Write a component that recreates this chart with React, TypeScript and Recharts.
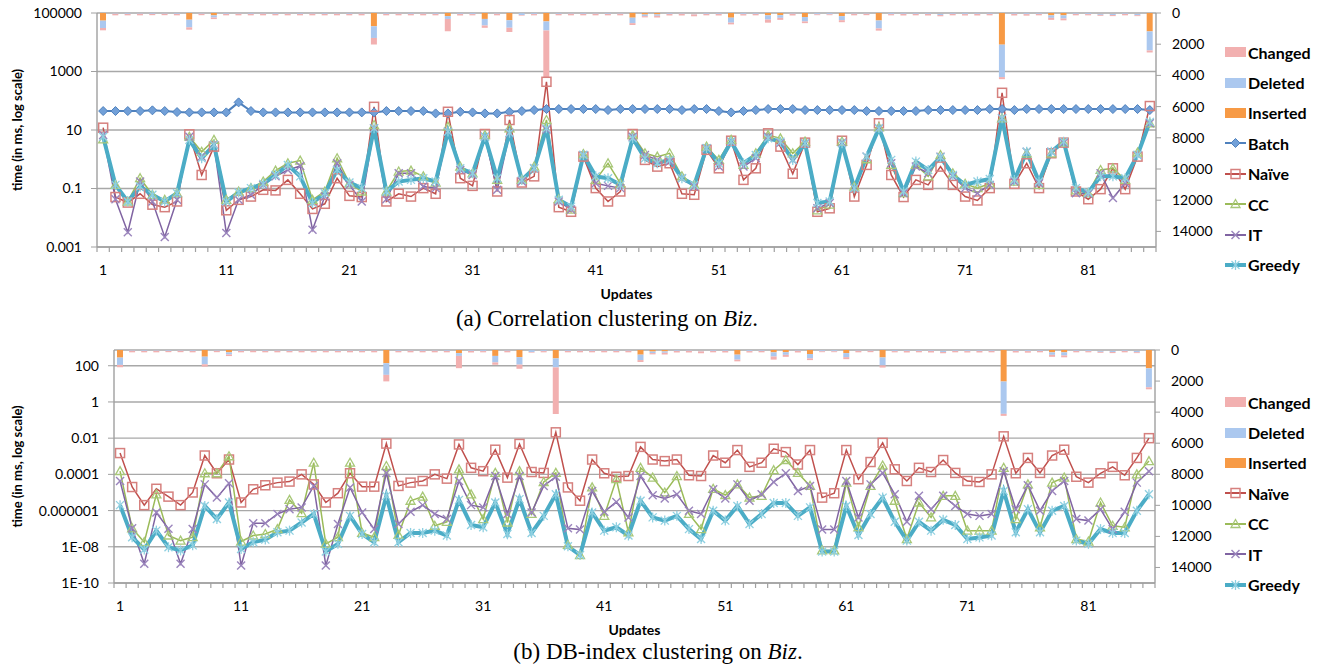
import { ComposedChart, Bar, Line, XAxis, YAxis, CartesianGrid } from 'recharts'

const FONT = 'Lato, "Open Sans", sans-serif'

const updates = Array.from({ length: 86 }, (_, i) => i + 1)

// edit counts per update (right axis, hanging from the top)
const inserted = [
  490, 10, 10, 10, 10, 10, 10, 430, 10, 150,
  10, 10, 10, 10, 10, 10, 10, 10, 10, 10,
  10, 10, 850, 10, 10, 10, 10, 10, 200, 10,
  10, 380, 10, 460, 10, 10, 540, 10, 10, 10,
  10, 10, 10, 300, 100, 90, 10, 10, 30, 10,
  10, 300, 10, 10, 150, 140, 10, 260, 10, 10,
  200, 10, 10, 480, 10, 10, 10, 10, 30, 10,
  10, 10, 10, 2030, 10, 10, 10, 150, 150, 10,
  10, 30, 30, 10, 30, 1180,
]
const deleted = [
  470, 40, 50, 40, 50, 40, 50, 490, 40, 140,
  50, 40, 50, 40, 50, 40, 50, 40, 50, 40,
  50, 40, 750, 50, 40, 50, 40, 50, 180, 50,
  60, 420, 40, 480, 120, 60, 580, 50, 40, 50,
  40, 50, 40, 350, 100, 90, 50, 40, 60, 50,
  50, 320, 60, 50, 270, 170, 40, 280, 70, 70,
  260, 40, 40, 510, 60, 50, 50, 50, 100, 50,
  60, 50, 50, 2080, 50, 60, 50, 160, 200, 50,
  60, 90, 100, 50, 110, 1220,
]
const changed = [
  150, 100, 90, 100, 80, 90, 90, 150, 90, 100,
  90, 100, 90, 100, 90, 100, 90, 100, 90, 100,
  90, 100, 420, 90, 100, 90, 100, 90, 790, 100,
  80, 150, 100, 270, 40, 80, 3000, 90, 100, 90,
  100, 90, 100, 120, 80, 110, 100, 110, 120, 90,
  100, 110, 90, 90, 200, 130, 110, 110, 60, 60,
  130, 100, 90, 140, 80, 100, 90, 100, 80, 90,
  90, 100, 90, 130, 100, 100, 90, 130, 120, 90,
  80, 60, 70, 90, 60, 130,
]

// (a) correlation clustering, time in ms
const batchA = [
  44.5, 44.5, 44.5, 44.5, 47, 44.5, 41, 40, 40, 40,
  40, 88, 44.5, 40, 40, 40, 40, 40, 40, 40,
  40, 40, 40, 44.5, 44.5, 44.5, 44.5, 37, 37, 42,
  40, 37, 37, 42, 44.5, 48, 52, 52, 52, 52,
  52, 48, 52, 52, 52, 52, 52, 48, 52, 52,
  44.5, 40, 44.5, 48, 52, 52, 52, 48, 48, 48,
  48, 48, 44.5, 44.5, 44.5, 44.5, 44.5, 48, 48, 48,
  48, 48, 52, 52, 48, 52, 52, 52, 52, 52,
  52, 52, 52, 52, 52, 48,
]
const naiveA = [
  12, 0.051, 0.033, 0.066, 0.028, 0.023, 0.036, 7.1, 0.29, 2.7,
  0.018, 0.041, 0.053, 0.09, 0.086, 0.197, 0.066, 0.02, 0.03, 0.225,
  0.056, 0.051, 62, 0.036, 0.066, 0.053, 0.103, 0.066, 42, 0.225,
  0.123, 7.3, 0.079, 22, 0.16, 0.26, 445, 0.023, 0.016, 1.23,
  0.103, 0.036, 0.079, 7.3, 0.95, 0.56, 0.73, 0.066, 0.061, 2.1,
  0.49, 4.3, 0.197, 0.49, 7.7, 2.7, 0.32, 3.7, 0.016, 0.021,
  4.3, 0.053, 0.64, 17, 0.29, 0.051, 0.197, 0.133, 0.56, 0.133,
  0.053, 0.039, 0.103, 187, 0.144, 0.73, 0.103, 1.6, 3.7, 0.079,
  0.043, 0.095, 0.49, 0.095, 1.23, 66,
]
const ccA = [
  4.8, 0.133, 0.036, 0.225, 0.061, 0.041, 0.069, 5.9, 1.8, 4.6,
  0.041, 0.079, 0.103, 0.173, 0.41, 0.73, 0.9, 0.041, 0.079, 1.08,
  0.15, 0.079, 14.8, 0.079, 0.38, 0.41, 0.26, 0.16, 13, 0.56,
  0.33, 6.7, 0.197, 11.4, 0.197, 0.56, 22, 0.043, 0.019, 1.5,
  0.197, 0.73, 0.15, 6.7, 1.6, 1.23, 1.6, 0.26, 0.133, 2.7,
  0.95, 4.6, 0.64, 1.6, 6.7, 5.2, 1.6, 4.0, 0.018, 0.028,
  4.0, 0.117, 1.0, 12.3, 0.64, 0.069, 0.64, 0.26, 1.4, 0.33,
  0.144, 0.103, 0.15, 25, 0.173, 1.6, 0.133, 1.6, 3.7, 0.086,
  0.069, 0.43, 0.49, 0.197, 1.7, 17,
]
const itA = [
  6.7, 0.043, 0.0032, 0.173, 0.036, 0.0022, 0.041, 5.9, 1.23, 3.1,
  0.003, 0.041, 0.061, 0.133, 0.26, 0.43, 0.59, 0.0039, 0.053, 0.73,
  0.133, 0.036, 11.4, 0.043, 0.33, 0.33, 0.117, 0.103, 8.8, 0.43,
  0.29, 5.9, 0.09, 7.7, 0.173, 0.49, 10.5, 0.036, 0.019, 1.4,
  0.15, 0.123, 0.103, 5.9, 1.4, 0.95, 0.83, 0.225, 0.117, 2.4,
  0.56, 4.0, 0.56, 1.08, 5.9, 3.7, 0.95, 3.5, 0.021, 0.032,
  3.7, 0.103, 1.23, 11.4, 0.73, 0.069, 0.56, 0.33, 1.23, 0.26,
  0.103, 0.069, 0.133, 25, 0.173, 1.8, 0.15, 1.8, 3.7, 0.069,
  0.066, 0.33, 0.047, 0.15, 1.4, 17,
]
const greedyA = [
  5.9, 0.133, 0.036, 0.117, 0.061, 0.036, 0.069, 4.6, 1.08, 3.1,
  0.036, 0.073, 0.103, 0.144, 0.29, 0.64, 0.26, 0.032, 0.069, 0.43,
  0.16, 0.103, 11.4, 0.079, 0.173, 0.197, 0.225, 0.173, 8.8, 0.49,
  0.33, 5.9, 0.225, 8.1, 0.197, 0.49, 11.4, 0.041, 0.024, 1.4,
  0.26, 0.225, 0.133, 5.2, 1.08, 0.73, 0.95, 0.225, 0.133, 2.4,
  0.73, 4.0, 0.73, 1.4, 5.2, 4.0, 0.95, 3.5, 0.032, 0.036,
  3.5, 0.103, 1.23, 11.4, 0.95, 0.079, 0.83, 0.43, 1.17, 0.29,
  0.133, 0.173, 0.21, 25, 0.197, 1.8, 0.173, 1.8, 4.0, 0.103,
  0.073, 0.26, 0.26, 0.225, 1.4, 19,
]

// (b) DB-index clustering, time in ms
const naiveB = [
  1.5e-3, 2.0e-5, 2.0e-6, 1.6e-5, 5.9e-6, 2.0e-6, 1.0e-5, 1.1e-3, 1.15e-4, 6.6e-4,
  2.8e-6, 1.5e-5, 2.5e-5, 3.5e-5, 4.0e-5, 1.0e-4, 2.8e-5, 2.8e-6, 9.1e-6, 1.15e-4,
  2.1e-5, 2.1e-5, 5.0e-3, 2.3e-5, 3.5e-5, 4.3e-5, 1.0e-4, 5.8e-5, 4.5e-3, 2.3e-4,
  1.5e-4, 2.3e-3, 6.6e-5, 4.8e-3, 1.35e-4, 1.2e-4, 2.1e-2, 1.9e-5, 3.5e-6, 6.6e-4,
  1.15e-4, 7.4e-5, 8.1e-5, 3.3e-3, 6.6e-4, 5.4e-4, 6.6e-4, 8.9e-5, 8.1e-5, 1.1e-3,
  4.4e-4, 2.2e-3, 2.6e-4, 4.4e-4, 2.6e-3, 1.7e-3, 3.5e-4, 2.2e-3, 5.2e-6, 9.1e-6,
  2.2e-3, 5.4e-5, 4.8e-4, 5.5e-3, 1.9e-4, 4.3e-5, 2.3e-4, 1.35e-4, 6.2e-4, 1.2e-4,
  4.3e-5, 3.8e-5, 1.0e-4, 1.26e-2, 1.15e-4, 8.1e-4, 1.2e-4, 1.1e-3, 2.3e-3, 7.4e-5,
  3.5e-5, 1.15e-4, 2.6e-4, 8.9e-5, 8.1e-4, 1.0e-2,
]
const ccB = [
  1.5e-4, 1.05e-7, 1.8e-8, 7.9e-6, 4.2e-8, 2.2e-8, 3.4e-8, 1.15e-4, 1.15e-4, 1.0e-3,
  1.95e-8, 4.2e-8, 5.1e-8, 9.5e-8, 3.9e-6, 7.2e-7, 4.4e-4, 1.45e-8, 3.4e-8, 4.4e-4,
  5.8e-8, 3.4e-8, 2.9e-4, 4.5e-8, 3.5e-6, 5.9e-6, 1.45e-7, 2.4e-7, 1.9e-4, 7.9e-6,
  3.4e-7, 1.2e-4, 2.2e-7, 1.5e-4, 6.5e-7, 3.8e-5, 1.2e-4, 1.26e-8, 3.5e-9, 1.9e-5,
  5.1e-7, 5.4e-5, 6.3e-8, 2.3e-4, 6.6e-5, 1.0e-5, 8.1e-5, 6.5e-7, 9.5e-8, 1.6e-5,
  7.1e-6, 2.8e-5, 5.2e-6, 6.5e-6, 1.7e-4, 6.2e-4, 1.2e-4, 2.3e-5, 6.3e-9, 6.3e-9,
  3.5e-5, 1.2e-7, 2.3e-5, 3.1e-4, 3.5e-6, 2.7e-8, 2.8e-6, 4.2e-7, 6.5e-6, 6.5e-6,
  7.8e-8, 7.8e-8, 7.8e-8, 2.3e-4, 3.4e-7, 2.8e-5, 1.2e-7, 3.5e-5, 6.6e-5, 2.7e-8,
  1.95e-8, 2.8e-6, 1.45e-7, 1.2e-7, 1.0e-4, 5.4e-4,
]
const itB = [
  4.3e-5, 1.05e-7, 1.15e-9, 7.9e-7, 9.8e-8, 1.15e-9, 9.5e-8, 2.8e-5, 5.2e-6, 3.2e-5,
  9.3e-10, 2.0e-7, 2.0e-7, 6.5e-7, 1.2e-6, 1.5e-6, 2.3e-5, 9.3e-10, 1.8e-7, 1.9e-5,
  7.9e-7, 9.5e-8, 1.2e-4, 1.8e-7, 8.5e-7, 2.0e-6, 6.5e-7, 3.4e-7, 4.3e-5, 2.0e-6,
  1.5e-6, 8.1e-5, 6.5e-7, 8.1e-5, 7.9e-7, 2.3e-5, 7.4e-5, 1.05e-7, 8.9e-8, 1.2e-5,
  8.5e-7, 3.0e-6, 4.2e-7, 8.1e-5, 7.1e-6, 4.7e-6, 7.9e-6, 9.8e-7, 6.5e-7, 1.5e-5,
  4.7e-6, 2.8e-5, 3.5e-6, 7.9e-6, 3.8e-5, 1.15e-4, 1.2e-5, 2.3e-5, 8.9e-8, 8.9e-8,
  4.3e-5, 4.2e-7, 2.8e-5, 1.2e-4, 7.9e-6, 2.4e-7, 6.5e-6, 1.2e-6, 6.5e-6, 1.8e-6,
  6.5e-7, 5.1e-7, 6.5e-7, 1.5e-4, 1.2e-6, 2.5e-5, 9.8e-7, 1.2e-5, 4.3e-5, 3.4e-7,
  2.8e-7, 1.2e-6, 9.5e-8, 8.5e-7, 3.5e-5, 1.5e-4,
]
const greedyB = [
  2.0e-6, 3.4e-8, 7.1e-9, 7.8e-8, 9.5e-9, 6.3e-9, 1.2e-8, 1.8e-6, 3.4e-7, 2.8e-6,
  7.6e-9, 1.8e-8, 2.5e-8, 6.3e-8, 7.8e-8, 2.2e-7, 6.5e-7, 5.5e-9, 1.45e-8, 5.1e-7,
  5.1e-8, 1.8e-8, 6.5e-6, 1.8e-8, 5.8e-8, 5.8e-8, 7.8e-8, 4.2e-8, 3.9e-6, 1.6e-7,
  1.2e-7, 2.8e-6, 5.1e-8, 4.3e-6, 5.8e-8, 5.1e-7, 7.9e-6, 1.07e-8, 3.5e-9, 7.9e-7,
  7.8e-8, 1.2e-7, 4.2e-8, 3.5e-6, 4.2e-7, 2.8e-7, 5.1e-7, 9.5e-8, 2.7e-8, 9.8e-7,
  2.8e-7, 1.8e-6, 1.8e-7, 6.5e-7, 2.6e-6, 2.6e-6, 5.1e-7, 1.5e-6, 5.5e-9, 5.5e-9,
  1.8e-6, 4.5e-8, 6.5e-7, 5.2e-6, 2.4e-7, 2.2e-8, 2.4e-7, 7.8e-8, 3.1e-7, 1.6e-7,
  2.7e-8, 3.3e-8, 4.2e-8, 1.2e-5, 6.3e-8, 1.2e-6, 6.3e-8, 9.8e-7, 1.8e-6, 2.2e-8,
  1.45e-8, 9.5e-8, 5.8e-8, 5.8e-8, 9.8e-7, 7.9e-6,
]

const logTicksA = [0.001, 0.1, 10, 1000, 100000]
const logLabelsA = ['0.001', '0.1', '10', '1000', '100000']
const logTicksB = [1e-10, 1e-8, 1e-6, 1e-4, 0.01, 1, 100]
const logLabelsB = ['1E-10', '1E-08', '0.000001', '0.0001', '0.01', '1', '100']
const countTicks = [0, 2000, 4000, 6000, 8000, 10000, 12000, 14000]

const dataA = updates.map((u, i) => ({
  u,
  inserted: inserted[i],
  deleted: deleted[i],
  changed: changed[i],
  batch: batchA[i],
  naive: naiveA[i],
  cc: ccA[i],
  it: itA[i],
  greedy: greedyA[i],
}))
const dataB = updates.map((u, i) => ({
  u,
  inserted: inserted[i],
  deleted: deleted[i],
  changed: changed[i],
  naive: naiveB[i],
  cc: ccB[i],
  it: itB[i],
  greedy: greedyB[i],
}))

const C = {
  inserted: '#f79a45',
  deleted: '#abc8ef',
  changed: '#f2b0b0',
  batch: '#4f81bd',
  naive: '#c0504d',
  cc: '#9bbb59',
  it: '#8064a2',
  greedy: '#4bacc6',
}
const AXIS = '#a0a0a0'
const GRID = '#a8a8a8'

function Marker({ kind, cx, cy }: { kind: string; cx: number; cy: number }) {
  if (cx == null || cy == null) return null
  const s = 4.5
  if (kind === 'batch')
    return <polygon points={`${cx},${cy - s} ${cx + s},${cy} ${cx},${cy + s} ${cx - s},${cy}`} fill="#72a0d8" stroke={C.batch} strokeWidth={1} />
  if (kind === 'naive')
    return <rect x={cx - s} y={cy - s} width={2 * s} height={2 * s} fill="none" stroke="#d6807e" strokeWidth={1.5} />
  if (kind === 'cc')
    return <polygon points={`${cx},${cy - s} ${cx + s},${cy + 3.5} ${cx - s},${cy + 3.5}`} fill="none" stroke="#a8c878" strokeWidth={1.3} />
  if (kind === 'it')
    return (
      <g stroke="#9a84bc" strokeWidth={1.4}>
        <line x1={cx - 4} y1={cy - 4} x2={cx + 4} y2={cy + 4} />
        <line x1={cx - 4} y1={cy + 4} x2={cx + 4} y2={cy - 4} />
      </g>
    )
  return (
    <g stroke="#8fd0e1" strokeWidth={1.3}>
      <line x1={cx - 4} y1={cy - 4} x2={cx + 4} y2={cy + 4} />
      <line x1={cx - 4} y1={cy + 4} x2={cx + 4} y2={cy - 4} />
      <line x1={cx} y1={cy - 5} x2={cx} y2={cy + 5} />
    </g>
  )
}

const dotFor = (kind: string) => (p: any) => <Marker key={`${kind}-${p.index}`} kind={kind} cx={p.cx} cy={p.cy} />

function CatTick(props: any) {
  const { x, y, payload, index, half, total } = props
  return (
    <g>
      <line x1={x - half} x2={x - half} y1={y} y2={y + 5} stroke={AXIS} strokeWidth={1.2} />
      {index === total - 1 && <line x1={x + half} x2={x + half} y1={y} y2={y + 5} stroke={AXIS} strokeWidth={1.2} />}
      {index % 10 === 0 && (
        <text x={x} y={y + 22} textAnchor="middle" dominantBaseline="central" fontSize={14} fontFamily={FONT} fill="#000">
          {payload.value}
        </text>
      )}
    </g>
  )
}

const yTitle = (props: any) => {
  const vb = props.viewBox
  const cy = vb.y + vb.height / 2
  return (
    <text x={17} y={cy} transform={`rotate(-90, 17, ${cy})`} textAnchor="middle" dominantBaseline="central" fontSize={13} fontWeight={700} fontFamily={FONT} fill="#000">
      time (in ms, log scale)
    </text>
  )
}
const xTitle = (props: any) => {
  const vb = props.viewBox
  return (
    <text x={vb.x + vb.width / 2} y={vb.y + 46} textAnchor="middle" dominantBaseline="central" fontSize={14} fontWeight={700} fontFamily={FONT} fill="#000">
      Updates
    </text>
  )
}

const tickStyle = { fill: '#000', fontSize: 14, fontFamily: FONT }

function Panel({ data, top, margin, logDomain, logTicks, logLabels, withBatch }: any) {
  const plotW = 1325 - margin.left - margin.right - 120
  const half = plotW / data.length / 2
  return (
    <div style={{ position: 'absolute', left: 0, top }}>
      <ComposedChart width={1325} height={320} data={data} margin={margin} barGap={0}>
        <CartesianGrid yAxisId="left" vertical={false} stroke={GRID} strokeWidth={1.4} />
        <XAxis
          dataKey="u"
          interval={0}
          height={30}
          tickSize={0}
          tickMargin={0}
          tickLine={false}
          axisLine={{ stroke: AXIS, strokeWidth: 1.4 }}
          tick={<CatTick half={half} total={data.length} />}
          label={xTitle}
        />
        <YAxis
          yAxisId="left"
          scale="log"
          domain={logDomain}
          allowDataOverflow
          ticks={logTicks}
          width={60}
          tickSize={6}
          tickMargin={9}
          tick={tickStyle}
          tickFormatter={(v: number) => logLabels[logTicks.indexOf(v)] ?? ''}
          axisLine={{ stroke: AXIS, strokeWidth: 1.4 }}
          tickLine={{ stroke: AXIS }}
          label={yTitle}
        />
        <YAxis
          yAxisId="right"
          orientation="right"
          reversed
          domain={[0, 15000]}
          ticks={countTicks}
          width={60}
          tickSize={5}
          tickMargin={11}
          tick={tickStyle}
          axisLine={{ stroke: AXIS, strokeWidth: 1.4 }}
          tickLine={{ stroke: AXIS }}
        />
        <Bar yAxisId="right" dataKey="inserted" stackId="e" fill={C.inserted} barSize={6} isAnimationActive={false} />
        <Bar yAxisId="right" dataKey="deleted" stackId="e" fill={C.deleted} barSize={6} isAnimationActive={false} />
        <Bar yAxisId="right" dataKey="changed" stackId="e" fill={C.changed} barSize={6} isAnimationActive={false} />
        {withBatch && (
          <Line yAxisId="left" dataKey="batch" stroke={C.batch} strokeWidth={2} dot={dotFor('batch')} isAnimationActive={false} />
        )}
        <Line yAxisId="left" dataKey="naive" stroke={C.naive} strokeWidth={1.5} dot={dotFor('naive')} isAnimationActive={false} />
        <Line yAxisId="left" dataKey="cc" stroke={C.cc} strokeWidth={1.5} dot={dotFor('cc')} isAnimationActive={false} />
        <Line yAxisId="left" dataKey="it" stroke={C.it} strokeWidth={1.5} dot={dotFor('it')} isAnimationActive={false} />
        <Line yAxisId="left" dataKey="greedy" stroke={C.greedy} strokeWidth={4} dot={dotFor('greedy')} isAnimationActive={false} />
      </ComposedChart>
    </div>
  )
}

const legendA = [
  { key: 'changed', label: 'Changed', bar: true },
  { key: 'deleted', label: 'Deleted', bar: true },
  { key: 'inserted', label: 'Inserted', bar: true },
  { key: 'batch', label: 'Batch' },
  { key: 'naive', label: 'Naïve' },
  { key: 'cc', label: 'CC' },
  { key: 'it', label: 'IT' },
  { key: 'greedy', label: 'Greedy' },
]
const legendB = legendA.filter(d => d.key !== 'batch')

function LegendBox({ items, top }: any) {
  return (
    <div style={{ position: 'absolute', left: 1225, top }}>
      {items.map((d: any) => (
        <div key={d.key} style={{ height: 30.4, display: 'flex', alignItems: 'center' }}>
          <svg width={22} height={14} style={{ marginRight: 1 }}>
            {d.bar ? (
              <rect x={0} y={2} width={21} height={10} fill={(C as any)[d.key]} />
            ) : (
              <g>
                <line x1={0} x2={21} y1={7} y2={7} stroke={(C as any)[d.key]} strokeWidth={d.key === 'greedy' ? 4 : 2} />
                <Marker kind={d.key} cx={10.5} cy={7} />
              </g>
            )}
          </svg>
          <span style={{ fontFamily: FONT, fontWeight: 700, fontSize: 16, color: '#000' }}>{d.label}</span>
        </div>
      ))}
    </div>
  )
}

const captionStyle: any = {
  position: 'absolute',
  fontFamily: '"Liberation Serif", "Times New Roman", serif',
  fontSize: 23,
  lineHeight: '23px',
  color: '#000',
  whiteSpace: 'nowrap',
  transform: 'translateX(-50%)',
}

export default function App() {
  return (
    <div style={{ position: 'absolute', left: 0, top: 0, width: 1325, height: 666, background: '#fff', overflow: 'hidden' }}>
      <Panel
        data={dataA}
        top={0}
        margin={{ top: 13, right: 109, bottom: 43, left: 37 }}
        logDomain={[0.001, 100000]}
        logTicks={logTicksA}
        logLabels={logLabelsA}
        withBatch
      />
      <LegendBox items={legendA} top={37} />
      <Panel
        data={dataB}
        top={330}
        margin={{ top: 20, right: 110, bottom: 37, left: 54 }}
        logDomain={[1e-10, 740]}
        logTicks={logTicksB}
        logLabels={logLabelsB}
      />
      <LegendBox items={legendB} top={387} />
      <div style={{ ...captionStyle, left: 607, top: 307 }}>
        (a) Correlation clustering on <i>Biz</i>.
      </div>
      <div style={{ ...captionStyle, left: 658, top: 640 }}>
        (b) DB-index clustering on <i>Biz</i>.
      </div>
    </div>
  )
}
